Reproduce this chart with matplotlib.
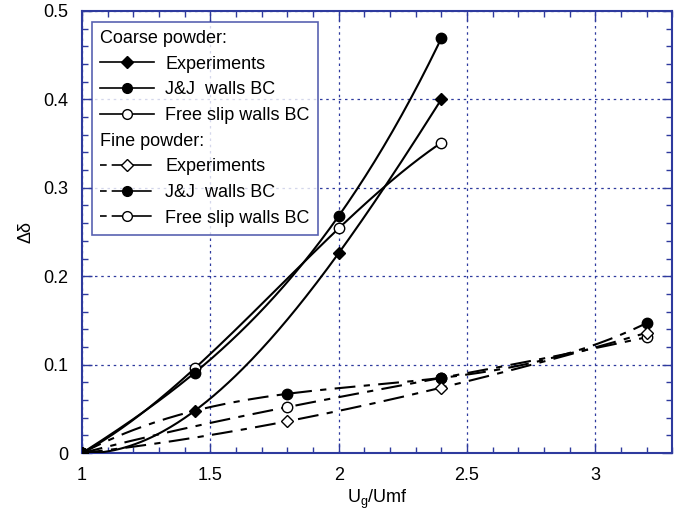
import numpy as np
import matplotlib.pyplot as plt
from matplotlib.lines import Line2D
from matplotlib.ticker import MultipleLocator

plt.rcParams['font.family'] = ['Liberation Sans', 'DejaVu Sans']

# coarse powder
coarse_x = [1.0, 1.44, 2.0, 2.4]
coarse_exp = [0.0, 0.048, 0.226, 0.400]
coarse_jj = [0.0, 0.091, 0.268, 0.469]
coarse_fs = [0.0, 0.096, 0.254, 0.351]

# fine powder
fine_x = [1.0, 1.8, 2.4, 3.2]
fine_exp = [0.0, 0.036, 0.074, 0.136]
fine_jj = [0.0, 0.067, 0.085, 0.147]
fine_fs = [0.0, 0.052, 0.085, 0.131]

x_ticks = [1, 1.5, 2, 2.5, 3]
x_labels = ['1', '1.5', '2', '2.5', '3']
y_ticks = [0, 0.1, 0.2, 0.3, 0.4, 0.5]
y_labels = ['0', '0.1', '0.2', '0.3', '0.4', '0.5']

blue = '#2e3a9e'
dashdot = (0, (10, 4, 3, 4))

fig = plt.figure(figsize=(6.92, 5.19), dpi=100)
ax = fig.add_axes([0.1185, 0.127, 0.853, 0.852])


def smooth(x, y):
    c = np.polyfit(x, y, len(x) - 1)
    xs = np.linspace(x[0], x[-1], 200)
    return xs, np.polyval(c, xs)


series = [
    (coarse_x, coarse_exp, '-', 'D', 'black', 6),
    (coarse_x, coarse_jj, '-', 'o', 'black', 7.5),
    (coarse_x, coarse_fs, '-', 'o', 'white', 7.5),
    (fine_x, fine_exp, dashdot, 'D', 'white', 6),
    (fine_x, fine_jj, dashdot, 'o', 'black', 7.5),
    (fine_x, fine_fs, dashdot, 'o', 'white', 7.5),
]
for k, (x, y, ls, m, fc, ms) in enumerate(series):
    xs, ys = smooth(x, y)
    ax.plot(xs, ys, color='black', lw=1.5, linestyle=ls, zorder=3)
    # coarse experiments marker ends up on top at the origin
    ax.plot(x, y, linestyle='none', marker=m, mfc=fc, mec='black',
            ms=ms, mew=1, zorder=10 - k)

ax.set_xlim(1, 3.3)
ax.set_ylim(0, 0.5)
ax.set_xticks(x_ticks)
ax.set_xticklabels(x_labels)
ax.set_yticks(y_ticks)
ax.set_yticklabels(y_labels)
ax.xaxis.set_minor_locator(MultipleLocator(0.1))
ax.yaxis.set_minor_locator(MultipleLocator(0.02))
ax.tick_params(which='both', direction='in', top=True, right=True,
               color=blue, labelsize=13, pad=10)
ax.tick_params(which='major', length=7, width=1)
ax.tick_params(which='minor', length=4, width=1)
for s in ax.spines.values():
    s.set_color(blue)
    s.set_linewidth(1.5)
ax.grid(True, which='major', color=blue, linestyle=(0, (2, 3)), lw=0.9)

ax.set_xlabel('U$_\\mathregular{g}$/Umf', fontsize=13, labelpad=3)
ax.set_ylabel('Δδ', fontsize=13, labelpad=6)

blank = Line2D([], [], linestyle='none')
legls = (0, (4, 3, 20, 0))
handles = [
    blank,
    Line2D([], [], color='black', lw=1.2, marker='D', mfc='black', mec='black', ms=6),
    Line2D([], [], color='black', lw=1.2, marker='o', mfc='black', mec='black', ms=7),
    Line2D([], [], color='black', lw=1.2, marker='o', mfc='white', mec='black', ms=7),
    blank,
    Line2D([], [], color='black', lw=1.2, ls=legls, marker='D', mfc='white', mec='black', ms=6),
    Line2D([], [], color='black', lw=1.2, ls=legls, marker='o', mfc='black', mec='black', ms=7),
    Line2D([], [], color='black', lw=1.2, ls=legls, marker='o', mfc='white', mec='black', ms=7),
]
labels = ['Coarse powder:', 'Experiments', 'J&J  walls BC', 'Free slip walls BC',
          'Fine powder:', 'Experiments', 'J&J  walls BC', 'Free slip walls BC']
leg = ax.legend(handles, labels, loc='upper left', bbox_to_anchor=(0.017, 0.975),
                fontsize=13, frameon=True, fancybox=False, handlelength=3,
                handletextpad=0.6, labelspacing=0.48, borderpad=0.45,
                borderaxespad=0)
leg.get_frame().set_edgecolor(blue)
leg.get_frame().set_linewidth(1.2)
leg.set_zorder(20)
rows = leg._legend_handle_box.get_children()[0].get_children()
for i in (0, 4):
    rows[i].get_children()[0].width = 0
    rows[i].sep = 0

fig.savefig('out.png', dpi=100)
